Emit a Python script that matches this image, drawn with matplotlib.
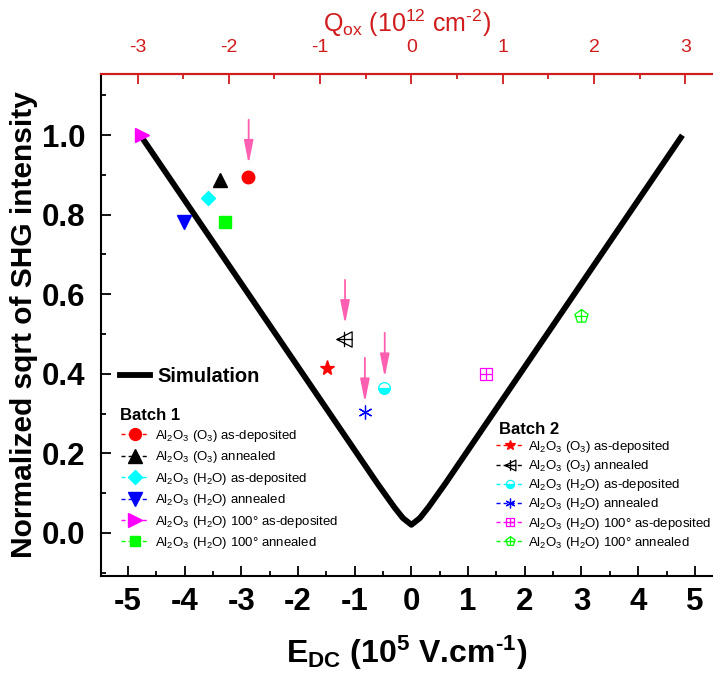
import matplotlib
matplotlib.use("Agg")
import matplotlib.pyplot as plt
from matplotlib.path import Path
from matplotlib.lines import Line2D
from matplotlib.ticker import MultipleLocator, FormatStrFormatter

plt.rcParams['font.family'] = ['Liberation Sans', 'DejaVu Sans']
plt.rcParams['mathtext.fontset'] = 'custom'
plt.rcParams['mathtext.rm'] = 'Liberation Sans'
plt.rcParams['mathtext.it'] = 'Liberation Sans:italic'
plt.rcParams['mathtext.bf'] = 'Liberation Sans:bold'
plt.rcParams['mathtext.default'] = 'regular'
plt.rcParams['axes.unicode_minus'] = False

# ---- data ----
# simulation curve (E in 1e5 V/cm, normalized sqrt SHG)
sim_E = [-4.78, -0.6, -0.3, -0.15, 0.0, 0.15, 0.3, 0.6, 4.78]
sim_y = [1.0, 0.124, 0.064, 0.037, 0.02, 0.037, 0.064, 0.124, 1.0]

batch1_labels = [r'Al$_2$O$_3$ (O$_3$) as-deposited',
                 r'Al$_2$O$_3$ (O$_3$) annealed',
                 r'Al$_2$O$_3$ (H$_2$O) as-deposited',
                 r'Al$_2$O$_3$ (H$_2$O) annealed',
                 r'Al$_2$O$_3$ (H$_2$O) 100° as-deposited',
                 r'Al$_2$O$_3$ (H$_2$O) 100° annealed']
batch1_E = [-2.88, -3.38, -3.59, -4.01, -4.76, -3.29]
batch1_y = [0.894, 0.888, 0.841, 0.782, 1.001, 0.782]

batch2_labels = batch1_labels
batch2_E = [-1.49, -1.19, -0.49, -0.82, 1.31, 3.00]
batch2_y = [0.414, 0.488, 0.365, 0.303, 0.400, 0.546]

# pink arrows pointing at some points
arrow_E = [-2.87, -1.17, -0.47, -0.82]
arrow_top = [1.039, 0.636, 0.503, 0.440]
arrow_tip = [0.928, 0.525, 0.391, 0.328]

E_per_Q = 1.61  # top axis conversion
q_ticks = [-3, -2, -1, 0, 1, 2, 3]

# ---- custom open markers with a cross inside ----
def crossed(poly, cross):
    verts = list(poly) + [poly[0]]
    codes = [Path.MOVETO] + [Path.LINETO] * (len(poly) - 1) + [Path.CLOSEPOLY]
    for a, b in cross:
        verts += [a, b]
        codes += [Path.MOVETO, Path.LINETO]
    return Path(verts, codes)

tri_left_plus = crossed([(-1, 0), (1, 1), (1, -1)],
                        [((-1, 0), (1, 0)), ((0, -1), (0, 1))])
square_plus = crossed([(-1, -1), (1, -1), (1, 1), (-1, 1)],
                      [((-1, 0), (1, 0)), ((0, -1), (0, 1))])
pent = [(0, 1), (-0.951, 0.309), (-0.588, -0.809), (0.588, -0.809), (0.951, 0.309)]
pent_plus = crossed(pent, [((-0.851, 0), (0.851, 0)), ((0, -0.809), (0, 1))])

red, black, cyan, blue, mag, green = '#ff0000', '#000000', '#00ffff', '#0000ff', '#ff00ff', '#00ff00'

b1_style = [dict(marker='o', color=red, ms=9),
            dict(marker='^', color=black, ms=10),
            dict(marker='D', color=cyan, ms=7.6),
            dict(marker='v', color=blue, ms=10),
            dict(marker='>', color=mag, ms=10.3),
            dict(marker='s', color=green, ms=8)]
b2_style = [dict(marker='*', color=red, ms=11, mfc=red),
            dict(marker=tri_left_plus, color=black, ms=11, mfc='none'),
            dict(marker='o', color=cyan, ms=8.4, mfc=cyan, fillstyle='bottom', markerfacecoloralt='white'),
            dict(marker=(6, 2, 0), color=blue, ms=10, mfc='none'),
            dict(marker=square_plus, color=mag, ms=8, mfc='none'),
            dict(marker=pent_plus, color=green, ms=10, mfc='none')]

fig = plt.figure(figsize=(7.13, 6.74), dpi=100)
W, H = 713, 674
ax = fig.add_axes([100.7 / W, (H - 575.7) / H, (W - 100.7) / W, (575.7 - 74) / H])

ax.plot(sim_E, sim_y, color='black', lw=4.2, solid_joinstyle='round',
        solid_capstyle='butt', zorder=2)

for e, y, st in zip(batch1_E, batch1_y, b1_style):
    ax.plot([e], [y], ls='none', marker=st['marker'], ms=st['ms'],
            mfc=st['color'], mec=st['color'], zorder=3)
for e, y, st in zip(batch2_E, batch2_y, b2_style):
    kw = {k: v for k, v in st.items() if k not in ('color',)}
    ax.plot([e], [y], ls='none', mec=st['color'], mew=0.9, zorder=3, **kw)

arrow_col = '#ff5fb0'
for e, y0, y1 in zip(arrow_E, arrow_top, arrow_tip):
    ax.annotate('', xy=(e, y1), xytext=(e, y0),
                arrowprops=dict(arrowstyle='-|>,head_length=1.0,head_width=0.2',
                                color=arrow_col, lw=1.3, shrinkA=0, shrinkB=0,
                                mutation_scale=14))

ax.set_xlim(-5.48, 5.32)
ax.set_ylim(-0.108, 1.154)
ax.xaxis.set_major_locator(MultipleLocator(1))
ax.xaxis.set_minor_locator(MultipleLocator(0.5))
ax.yaxis.set_major_locator(MultipleLocator(0.2))
ax.yaxis.set_minor_locator(MultipleLocator(0.1))
ax.yaxis.set_major_formatter(FormatStrFormatter('%.1f'))
ax.xaxis.set_major_formatter(FormatStrFormatter('%d'))
ax.tick_params(which='both', direction='in', width=1.3, colors='black')
ax.tick_params(which='major', length=7)
ax.tick_params(which='minor', length=3.6)
ax.tick_params(axis='x', labelsize=22.5, pad=8)
ax.tick_params(axis='y', labelsize=22.5, pad=11)
for lab in ax.get_xticklabels() + ax.get_yticklabels():
    lab.set_fontweight('bold')
for s in ('left', 'bottom'):
    ax.spines[s].set_linewidth(1.5)
ax.spines['right'].set_visible(False)
ax.spines['top'].set_color('#d01c1c')
ax.spines['top'].set_linewidth(1.5)

ax.set_xlabel('E$_\\mathbf{DC}$ (10$^\\mathbf{5}$ V.cm$^\\mathbf{\u20101}$)',
              fontsize=23, fontweight='bold', labelpad=12)
ax.set_ylabel('Normalized sqrt of SHG intensity', fontsize=21.5,
              fontweight='bold', labelpad=3)

top_red = '#d01c1c'
sec = ax.secondary_xaxis('top', functions=(lambda e: e / E_per_Q, lambda q: q * E_per_Q))
sec.set_xticks(q_ticks)
sec.xaxis.set_minor_locator(MultipleLocator(0.5))
sec.xaxis.set_major_formatter(FormatStrFormatter('%d'))
sec.tick_params(which='both', direction='in', width=1.3, colors=top_red)
sec.tick_params(which='major', length=7, labelsize=14, pad=13)
sec.tick_params(which='minor', length=3.6)
sec.spines['top'].set_color(top_red)
sec.spines['top'].set_linewidth(1.5)
sec.set_xlabel('Q$_{ox}$ (10$^{12}$ cm$^{\u20102}$)', fontsize=18, color=top_red, labelpad=5)

# ---- legends ----
def fx(px):
    return px / W

def fy(py):
    return 1 - py / H

dash = (0, (2.9, 2.2))
h1 = [Line2D([], [], ls=dash, lw=1, color=st['color'], marker=st['marker'],
             ms=st['ms'] * 0.95, mfc=st['color'], mec=st['color']) for st in b1_style]
h2 = []
for st in b2_style:
    kw = {k: v for k, v in st.items() if k not in ('color', 'ms')}
    h2.append(Line2D([], [], ls=dash, lw=1, color=st['color'], mec=st['color'],
                     mew=0.9, ms=st['ms'] * 0.7, **kw))

leg_kw = dict(frameon=False, loc='upper left', bbox_transform=fig.transFigure,
              borderpad=0, borderaxespad=0, handlelength=2.05,
              prop={'size': 9.5})
leg1 = ax.legend(h1, batch1_labels, labelspacing=0.41, handletextpad=0.5,
                 bbox_to_anchor=(fx(121), fy(428)), **leg_kw)
ax.add_artist(leg1)
leg2 = ax.legend(h2, batch2_labels, labelspacing=0.24, handletextpad=0.4,
                 bbox_to_anchor=(fx(496), fy(439)), **leg_kw)
ax.add_artist(leg2)
fig.text(fx(120), fy(415), 'Batch 1', fontsize=12, fontweight='bold', va='center')
fig.text(fx(499), fy(430), 'Batch 2', fontsize=12, fontweight='bold', va='center')
ax.legend([Line2D([], [], color='black', lw=4.2)], ['Simulation'], frameon=False,
          loc='upper left', bbox_transform=fig.transFigure, borderpad=0,
          borderaxespad=0, handlelength=1.5, handletextpad=0.35,
          prop={'size': 14.5, 'weight': 'bold'}, bbox_to_anchor=(fx(120), fy(367)))

fig.savefig('out.png', dpi=100)
